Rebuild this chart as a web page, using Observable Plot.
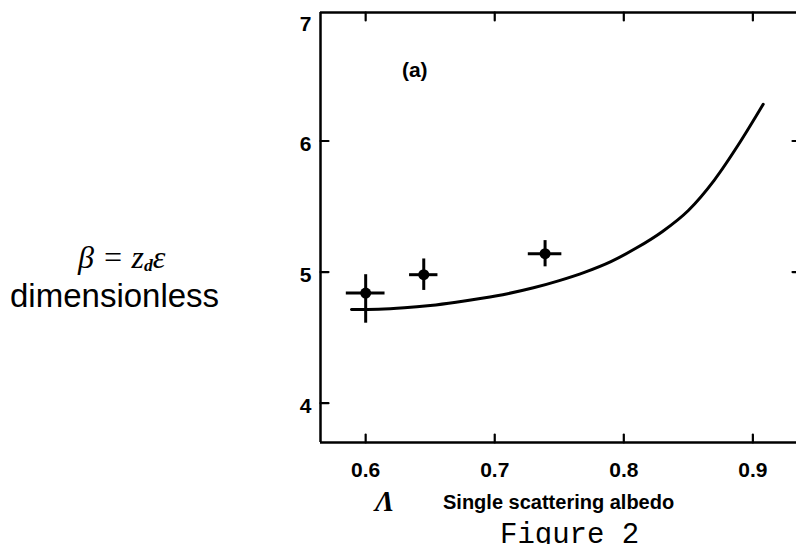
<!DOCTYPE html>
<html><head><meta charset="utf-8">
<script src="https://cdn.jsdelivr.net/npm/d3@7"></script>
<script src="https://cdn.jsdelivr.net/npm/@observablehq/plot@0.6"></script>
<style>
html,body{margin:0;padding:0;background:#fff;overflow:hidden;}
#wrap{position:relative;width:796px;height:544px;overflow:hidden;background:#fff;}
#chart{position:absolute;left:0;top:0;}
.lbl{position:absolute;white-space:nowrap;color:#000;line-height:1;}
</style></head><body>
<div id="wrap">
  <div id="chart"></div>
  <div class="lbl" style="left:78px;top:239px;font:italic 32px 'Liberation Serif';">β = z<sub style="font-size:55%;vertical-align:-0.15em;font-weight:bold">d</sub>ε</div>
  <div class="lbl" style="left:10px;top:277px;font:33px 'Liberation Sans';">dimensionless</div>
  <div class="lbl" style="left:375px;top:485px;font:italic bold 29px 'Liberation Serif';">Λ</div>
  <div class="lbl" style="left:443px;top:491px;font:bold 20px 'Liberation Sans';">Single scattering albedo</div>
  <div class="lbl" style="left:500px;top:519px;font:29px 'Liberation Mono';">Figure 2</div>
</div>
<script>
// ---- data ----
const xTicks = [0.6, 0.7, 0.8, 0.9];
const yTicks = [4, 5, 6, 7];
const rightTicks = [5, 6];
const xDomain = [0.565, 0.94];
const yDomain = [3.7, 6.98];

// theoretical curve
const curveX = [0.589, 0.61, 0.63, 0.65, 0.67, 0.69, 0.71, 0.73, 0.75, 0.77, 0.79, 0.81, 0.83, 0.85, 0.87, 0.89, 0.908];
const curveY = [4.715, 4.717, 4.727, 4.745, 4.77, 4.80, 4.835, 4.88, 4.935, 5.00, 5.08, 5.185, 5.31, 5.47, 5.70, 5.99, 6.28];

// measured points with error bars
const ptX    = [0.600, 0.645, 0.739];
const ptY    = [4.84, 4.98, 5.14];
const ptXErr = [0.015, 0.011, 0.013];
const ptYLo  = [4.61, 4.86, 5.04];
const ptYHi  = [4.98, 5.10, 5.24];

const panelLabel = "(a)";
const panelPos = [0.638, 6.54];

// ---- build ----
const curve = curveX.map((x, i) => ({x, y: curveY[i]}));
const pts = ptX.map((x, i) => ({x, y: ptY[i], xlo: x - ptXErr[i], xhi: x + ptXErr[i], ylo: ptYLo[i], yhi: ptYHi[i]}));
const tickShape = {draw(ctx, l) { ctx.moveTo(0, 0); ctx.lineTo(0, -l); }};
const K = "black";

const chart = Plot.plot({
  width: 796, height: 544,
  marginLeft: 320, marginRight: 0, marginTop: 12, marginBottom: 102,
  style: {fontFamily: "Liberation Sans", fontSize: "21px", fontWeight: "bold", overflow: "hidden", background: "transparent", color: "black"},
  x: {domain: xDomain, range: [320, 804]},
  y: {domain: yDomain},
  marks: [
    // frame
    Plot.ruleY([yDomain[0], yDomain[1]], {stroke: K, strokeWidth: 2.5}),
    Plot.ruleX([xDomain[0]], {stroke: K, strokeWidth: 2.5}),
    // inward ticks
    Plot.vector(xTicks, {x: d => d, y: yDomain[0], length: 8, rotate: 0, anchor: "start", shape: tickShape, stroke: K, strokeWidth: 2.2}),
    Plot.vector(xTicks, {x: d => d, y: yDomain[1], length: 8, rotate: 180, anchor: "start", shape: tickShape, stroke: K, strokeWidth: 2.2}),
    Plot.vector(yTicks.filter(t => t <= yDomain[1]), {x: xDomain[0], y: d => d, length: 8, rotate: 90, anchor: "start", shape: tickShape, stroke: K, strokeWidth: 2.2}),
    Plot.vector(rightTicks, {x: xDomain[1], y: d => d, length: 12, rotate: -90, anchor: "start", shape: tickShape, stroke: K, strokeWidth: 2.2}),
    // tick labels
    Plot.axisX(xTicks, {anchor: "bottom", tickSize: 0, tickPadding: 20, label: null, tickFormat: d => String(d), fill: K}),
    Plot.axisY(yTicks.filter(t => t <= yDomain[1]), {anchor: "left", tickSize: 0, tickPadding: 9, dy: 3, label: null, tickFormat: d => String(d), fill: K}),
    Plot.text(yTicks.filter(t => t > yDomain[1]), {x: xDomain[0], y: d => d, text: d => String(d), textAnchor: "end", dx: -9, dy: 14, fill: K}),
    // panel label
    Plot.text([panelLabel], {x: panelPos[0], y: panelPos[1], text: d => d, fill: K}),
    // curve
    Plot.line(curve, {x: "x", y: "y", curve: "monotone-x", stroke: K, strokeWidth: 3}),
    // error bars + points
    Plot.ruleX(pts, {x: "x", y1: "ylo", y2: "yhi", stroke: K, strokeWidth: 3}),
    Plot.ruleY(pts, {y: "y", x1: "xlo", x2: "xhi", stroke: K, strokeWidth: 3}),
    Plot.dot(pts, {x: "x", y: "y", r: 5.5, fill: K, stroke: "none"})
  ]
});
document.getElementById("chart").appendChild(chart);
</script>
</body></html>
